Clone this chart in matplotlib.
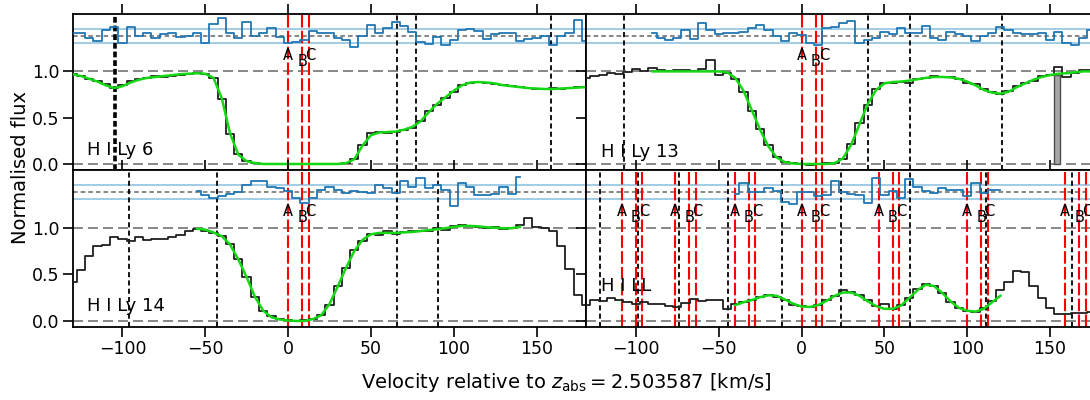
import numpy as np
import matplotlib
matplotlib.use("Agg")
import matplotlib.pyplot as plt

# ---------------- data ----------------
# pixel velocity grid [km/s]
vel = np.arange(-130, 181, 5)

flux_ly6 = [0.97, 0.95, 0.92, 0.90, 0.86, 0.82, 0.85, 0.90, 0.92, 0.93, 0.95, 0.94, 0.95,
            0.96, 0.97, 0.98, 0.97, 0.93, 0.70, 0.32, 0.11, 0.03, 0.01, 0.00, 0.005, 0.00,
            0.00, 0.00, -0.005, 0.00, 0.005, 0.00, 0.00, 0.01, 0.05, 0.21, 0.33, 0.35, 0.34,
            0.35, 0.37, 0.39, 0.46, 0.57, 0.64, 0.71, 0.78, 0.85, 0.88, 0.89, 0.88, 0.86,
            0.85, 0.84, 0.83, 0.82, 0.81, 0.81, 0.82, 0.81, 0.82, 0.83, 0.83]
model_ly6 = [0.97, 0.95, 0.92, 0.89, 0.85, 0.82, 0.84, 0.88, 0.91, 0.93, 0.94, 0.95, 0.96,
             0.97, 0.975, 0.98, 0.975, 0.93, 0.71, 0.33, 0.10, 0.03, 0.01, 0.0, 0.0, 0.0,
             0.0, 0.0, 0.0, 0.0, 0.0, 0.0, 0.0, 0.01, 0.05, 0.20, 0.31, 0.34, 0.345, 0.35,
             0.37, 0.40, 0.46, 0.56, 0.65, 0.72, 0.79, 0.85, 0.88, 0.885, 0.88, 0.87, 0.85,
             0.84, 0.83, 0.82, 0.815, 0.81, 0.81, 0.815, 0.82, 0.825, 0.83]
resid_ly6 = [0.04, 0.03, -0.02, -0.05, 0.07, 0.10, -0.07, 0.10, 0.0, 0.03, -0.02, 0.02, 0.04,
             -0.01, 0.0, 0.03, -0.07, 0.13, 0.20, 0.03, -0.02, 0.15, 0.0, 0.03, 0.09, -0.01,
             -0.07, -0.06, -0.04, 0.06, 0.03, 0.03, -0.02, -0.04, -0.12, 0.0, 0.12, 0.03, 0.09,
             0.15, 0.11, 0.05, -0.06, -0.08, -0.01, -0.10, -0.04, 0.07, 0.08, 0.06, -0.03, 0.02,
             0.03, 0.04, -0.05, -0.03, -0.02, 0.0, -0.09, 0.0, 0.03, 0.17, -0.05]

flux_ly13 = [0.93, 0.95, 0.96, 0.98, 0.97, 0.99, 1.03, 1.00, 1.04, 1.01, 1.00, 1.01, 1.02,
             1.00, 1.03, 1.12, 0.96, 0.98, 0.92, 0.78, 0.57, 0.38, 0.20, 0.08, 0.02, 0.01,
             0.0, -0.01, 0.0, 0.01, 0.01, 0.05, 0.22, 0.44, 0.64, 0.81, 0.87, 0.88, 0.89,
             0.88, 0.92, 0.93, 0.95, 0.94, 0.94, 0.92, 0.88, 0.86, 0.81, 0.78, 0.76, 0.79,
             0.84, 0.87, 0.90, 0.95, 0.96, 1.05, 0.94, 0.98, 1.02, 1.01, 1.00]
model_ly13 = [1.0, 1.0, 1.0, 1.0, 1.0, 1.0, 1.0, 1.0, 1.0, 0.99, 0.93, 0.79, 0.58, 0.37,
              0.19, 0.07, 0.02, 0.005, 0.0, 0.0, 0.0, 0.0, 0.01, 0.06, 0.21, 0.43, 0.65,
              0.80, 0.87, 0.885, 0.89, 0.90, 0.915, 0.93, 0.94, 0.94, 0.935, 0.92, 0.89,
              0.85, 0.80, 0.77, 0.76, 0.78, 0.83, 0.87, 0.91, 0.94, 0.96, 0.975, 0.98, 0.99,
              1.0, 1.0, 1.0]
resid_ly13 = [0.04, -0.02, -0.04, -0.02, 0.07, -0.03, 0.14, 0.07, 0.02, 0.04, 0.03, 0.05,
              0.09, 0.12, 0.07, 0.0, -0.05, 0.03, 0.01, -0.07, -0.09, 0.09, 0.10, 0.14, 0.16,
              -0.07, -0.04, -0.02, 0.05, 0.02, 0.09, 0.04, 0.03, 0.11, -0.02, -0.04, 0.05,
              0.02, 0.0, -0.05, 0.0, 0.03, 0.10, 0.07, 0.03, 0.02, 0.02, 0.03, -0.04, 0.05,
              -0.07, -0.09, -0.02, 0.07, 0.02]
bad_pix_vel = [154.3]
bad_pix_top = [0.96]

flux_ly14 = [0.42, 0.55, 0.70, 0.80, 0.82, 0.90, 0.88, 0.86, 0.90, 0.87, 0.88, 0.88, 0.90,
             0.92, 0.97, 0.99, 0.96, 0.94, 0.91, 0.83, 0.66, 0.47, 0.26, 0.11, 0.05, 0.02,
             0.01, 0.0, 0.01, 0.02, 0.06, 0.17, 0.37, 0.57, 0.76, 0.86, 0.93, 0.92, 0.96,
             0.93, 0.95, 0.96, 0.97, 0.96, 1.00, 0.98, 1.02, 1.03, 1.02, 1.01, 1.00, 1.01,
             0.99, 1.00, 1.03, 1.10, 1.01, 1.00, 0.96, 0.80, 0.56, 0.28, 0.17]
model_ly14 = [0.99, 0.98, 0.95, 0.91, 0.82, 0.66, 0.47, 0.26, 0.11, 0.04, 0.015, 0.005, 0.0,
              0.0, 0.02, 0.06, 0.18, 0.37, 0.57, 0.75, 0.87, 0.93, 0.945, 0.945, 0.945, 0.95,
              0.955, 0.965, 0.975, 0.985, 0.995, 1.01, 1.02, 1.02, 1.015, 1.005, 1.0, 0.995,
              0.995, 1.01]
resid_ly14 = [0.01, -0.03, -0.06, -0.04, -0.02, 0.0, 0.08, 0.12, 0.12, 0.06, 0.05, 0.01,
              -0.06, -0.11, -0.06, 0.03, 0.06, 0.03, -0.01, 0.01, 0.0, -0.01, 0.08, 0.05,
              -0.01, 0.12, 0.06, 0.15, 0.05, 0.08, 0.03, -0.15, 0.10, 0.06, -0.03, -0.03,
              -0.02, 0.06, -0.02, 0.17]

flux_ll = [0.17, 0.22, 0.21, 0.25, 0.23, 0.20, 0.18, 0.20, 0.18, 0.18, 0.16, 0.15, 0.19,
           0.24, 0.21, 0.22, 0.22, 0.13, 0.18, 0.20, 0.23, 0.26, 0.28, 0.26, 0.22, 0.17,
           0.16, 0.15, 0.17, 0.22, 0.27, 0.33, 0.31, 0.28, 0.22, 0.16, 0.18, 0.13, 0.17,
           0.25, 0.34, 0.40, 0.38, 0.30, 0.20, 0.14, 0.11, 0.10, 0.14, 0.21, 0.33, 0.42,
           0.54, 0.52, 0.38, 0.25, 0.14, 0.07, 0.075, 0.09, 0.08, 0.10, 0.10]
model_ll = [0.17, 0.20, 0.225, 0.255, 0.275, 0.27, 0.23, 0.185, 0.155, 0.15, 0.17, 0.215,
            0.27, 0.305, 0.305, 0.27, 0.21, 0.16, 0.13, 0.13, 0.165, 0.245, 0.33, 0.39,
            0.375, 0.30, 0.21, 0.14, 0.11, 0.10, 0.13, 0.20, 0.27]
resid_ll = [-0.02, 0.10, 0.0, 0.0, 0.05, 0.01, -0.10, -0.13, 0.0, 0.0, -0.04, -0.03, 0.12,
            0.0, -0.02, -0.03, -0.11, 0.15, -0.03, 0.01, -0.06, 0.14, 0.06, 0.01, -0.01,
            0.05, 0.03, 0.03, -0.04, 0.10, -0.01, 0.03, 0.03]

# velocity where each model / residual starts
model_start = {"ly6": -130, "ly13": -90, "ly14": -55, "ll": -40}

# component labels and offsets from each group anchor [km/s]
comp_names = ["A", "B", "C"]
comp_offsets = [0.0, 8.6, 12.5]
groups_ly = [0.0]
groups_ll = [-108.6, -76.5, -40.4, 0.0, 46.6, 99.8, 159.0]

# black dashed markers (other absorbers / blends)
marks_ly6 = [-104.7, 65.5, 77.0, 159.0]
marks_ly13 = [-107.0, 40.0, 65.2, 121.0]
marks_ly14 = [-96.3, -43.0, 65.5, 90.6]
marks_ll = [-121.5, -98.6, -73.9, -44.2, -12.0, 23.9, 65.2, 111.4, 163.4]

titles = ["H I Ly 6", "H I Ly 13", "H I Ly 14", "H I LL"]
xticks = [-100, -50, 0, 50, 100, 150]
yticks = [0.0, 0.5, 1.0]
ytick_labels = ["0.0", "0.5", "1.0"]

# ---------------- figure ----------------
W, H = 1090, 400
fig = plt.figure(figsize=(W / 100, H / 100), dpi=100)

def px_axes(x0, y0, x1, y1):
    return fig.add_axes([x0 / W, 1 - y1 / H, (x1 - x0) / W, (y1 - y0) / H])

GREEN = "#14d814"
RBLUE = "#1f77b4"
BAND = "#a3cbe5"
RES0 = 1.38
RES_BAND = 0.075

panels = [
    dict(box=(72.7, 14, 586.2, 170), flux=flux_ly6, model=model_ly6, resid=resid_ly6,
         key="ly6", marks=marks_ly6, groups=groups_ly, title=titles[0], ty=0.15,
         left=True, bottom=False),
    dict(box=(586.2, 14, 1099.7, 170), flux=flux_ly13, model=model_ly13, resid=resid_ly13,
         key="ly13", marks=marks_ly13, groups=groups_ly, title=titles[1], ty=0.13,
         left=False, bottom=False),
    dict(box=(72.7, 170, 586.2, 327), flux=flux_ly14, model=model_ly14, resid=resid_ly14,
         key="ly14", marks=marks_ly14, groups=groups_ly, title=titles[2], ty=0.16,
         left=True, bottom=True),
    dict(box=(586.2, 170, 1099.7, 327), flux=flux_ll, model=model_ll, resid=resid_ll,
         key="ll", marks=marks_ll, groups=groups_ll, title=titles[3], ty=0.37,
         left=False, bottom=True),
]

for p in panels:
    ax = px_axes(*p["box"])
    ax.set_xlim(-130, 180)
    ax.set_ylim(-0.065, 1.62)

    # reference lines
    ax.axhline(0.0, color="0.45", lw=1.2, dashes=(6, 3), zorder=1)
    ax.axhline(1.0, color="0.45", lw=1.2, dashes=(6, 3), zorder=1)
    ax.axhline(RES0, color="0.4", lw=1.1, dashes=(3, 2), zorder=1)
    ax.axhline(RES0 + RES_BAND, color=BAND, lw=1.4, zorder=1)
    ax.axhline(RES0 - RES_BAND, color=BAND, lw=1.4, zorder=1)

    # black dashed markers
    for i, m in enumerate(p["marks"]):
        thick = (p["key"] == "ly6" and i == 0)
        ax.axvline(m, color="k", lw=2.6 if thick else 1.3,
                   dashes=(1.6, 0.8) if thick else (2.8, 1.8), zorder=2)

    # components
    for g in p["groups"]:
        for name, off, ty in zip(comp_names, comp_offsets, [1.17, 1.11, 1.17]):
            ax.axvline(g + off, color="red", lw=1.5, dashes=(6, 1.6), zorder=2)
            ax.text(g + off + (1.2 if name == "C" else 0.0), ty, name, ha="center",
                    va="center", fontsize=10.5, color="k", zorder=4, clip_on=True)

    ax.plot(vel, p["flux"], drawstyle="steps-mid", color="0.12", lw=1.3, zorder=3)
    n = len(p["model"])
    i0 = int(np.where(vel == model_start[p["key"]])[0][0])
    vm = vel[i0:i0 + n]
    ax.plot(vm, p["model"], color=GREEN, lw=1.8, zorder=4)
    ax.plot(vm, RES0 + np.asarray(p["resid"]), drawstyle="steps-mid", color=RBLUE,
            lw=1.3, zorder=3)

    if p["key"] == "ly13":
        ax.bar(bad_pix_vel, bad_pix_top, width=3.4, color="0.65", edgecolor="0.3",
               lw=1.0, zorder=3)

    ax.text(0.028, p["ty"], p["title"], transform=ax.get_yaxis_transform(),
            fontsize=13, ha="left", va="center", zorder=5)

    ax.set_xticks(xticks)
    ax.set_yticks(yticks)
    ax.tick_params(direction="out", length=7.2, width=1.2, top=True, right=True,
                   labelsize=12.5, pad=2.5)
    if p["left"]:
        ax.set_yticklabels(ytick_labels)
    else:
        ax.set_yticklabels([])
    if not p["bottom"]:
        ax.set_xticklabels([])
    for s in ax.spines.values():
        s.set_linewidth(1.3)

fig.text(566 / W, 1 - 383 / H, r"Velocity relative to $z_{\rm abs} = 2.503587$ [km/s]",
         ha="center", va="center", fontsize=14)
fig.text(21 / W, 1 - 168 / H, "Normalised flux", rotation=90, ha="center", va="center",
         fontsize=14)

fig.savefig("out.png", dpi=100)
